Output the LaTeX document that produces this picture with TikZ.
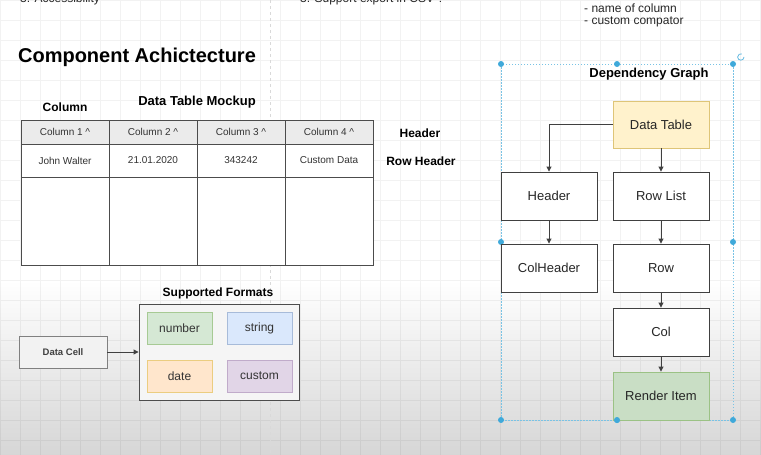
\documentclass[tikz,border=0pt]{standalone}
\usepackage{fontspec}
\setmainfont{Liberation Sans}
\usetikzlibrary{arrows.meta}
\definecolor{selblue}{HTML}{3FA9DA}
\definecolor{ylwfill}{HTML}{FFF2CC}
\definecolor{ylwdraw}{HTML}{D6B656}
\definecolor{grnfill}{HTML}{D5E8D4}
\definecolor{grndraw}{HTML}{82B366}
\definecolor{rifill}{HTML}{C9DEC5}
\definecolor{blufill}{HTML}{DAE8FC}
\definecolor{bludraw}{HTML}{6C8EBF}
\definecolor{orgfill}{HTML}{FFE6CC}
\definecolor{orgdraw}{HTML}{D79B00}
\definecolor{purfill}{HTML}{E1D5E7}
\definecolor{purdraw}{HTML}{9673A6}
\tikzset{
  gbox/.style={draw=black!75, line width=0.9pt, fill=white, minimum width=96pt, minimum height=48pt,
    inner sep=0pt, font=\fontsize{13}{15}\selectfont, text=black!85},
  arr/.style={-{Triangle[length=5pt,width=5pt]}, draw=black!75, line width=0.9pt},
  cellbox/.style={draw=black!70, line width=1pt, inner sep=0pt, minimum width=88pt,
    font=\fontsize{10}{12}\selectfont, text=black!80},
  lbl/.style={font=\bfseries\fontsize{12}{14}\selectfont, text=black, inner sep=0pt},
  fmtbox/.style={line width=0.8pt, minimum width=65pt, minimum height=32pt, inner sep=0pt,
    font=\fontsize{12}{14}\selectfont, text=black!80},
  seldot/.style={fill=selblue, draw=none},
}
\begin{document}
\begin{tikzpicture}[x=1pt,y=-1pt]
\useasboundingbox (0,0) rectangle (761,455);
\clip (0,0) rectangle (761,455);
% background
\fill[white] (0,0) rectangle (761,455);
\shade[top color=white, bottom color=black!16] (0,280) rectangle (761,455);
\draw[black, draw opacity=0.05, line width=0.5pt, step=20pt] (0,0) grid (761,455);
\draw[black!15, dashed, line width=0.5pt] (270,0) -- (270,455);

% top cut-off texts
\node[anchor=base west, inner sep=0pt, font=\fontsize{12}{14}\selectfont, text=black!85] (acc) at (20,2) {3. Accessibility};
\node[anchor=base west, inner sep=0pt, font=\fontsize{12}{14}\selectfont, text=black!85] (csv) at (300,2) {3. Support export in CSV ?};
\node[anchor=west, inner sep=0pt, font=\fontsize{12}{14}\selectfont, text=black!85] (n1) at (584,8) {- name of column};
\node[anchor=west, inner sep=0pt, font=\fontsize{12}{14}\selectfont, text=black!85] (n2) at (584,22) {- custom compator};

% title
\node[font=\bfseries\fontsize{20}{24}\selectfont, inner sep=0pt] (title) at (137,57) {Component Achictecture};
\node[lbl] (collbl) at (65,107) {Column};
\node[font=\bfseries\fontsize{13}{15}\selectfont, inner sep=0pt] (mock) at (197,102) {Data Table Mockup};

% table
\foreach \i/\x/\t in {1/65/Column 1 \textasciicircum, 2/153/Column 2 \textasciicircum, 3/241/Column 3 \textasciicircum, 4/329/Column 4 \textasciicircum}{
  \node[cellbox, fill=black!8, minimum height=24pt] (h\i) at (\x,132) {\t};
}
\foreach \i/\x/\t in {1/65/John Walter, 2/153/21.01.2020, 3/241/343242, 4/329/Custom Data}{
  \node[cellbox, fill=white, minimum height=33pt] (d\i) at (\x,160.5) {\t};
}
\foreach \i/\x in {1/65, 2/153, 3/241, 4/329}{
  \node[cellbox, fill=white, minimum height=88pt] (e\i) at (\x,221) {};
}
\node[lbl] (hdrlbl) at (420,133) {Header};
\node[lbl] (rowlbl) at (421,161) {Row Header};

% supported formats
\node[lbl] (fmtlbl) at (218,293) {Supported Formats};
\node[draw=black!70, line width=0.9pt, fill=black!4, minimum width=160pt, minimum height=96pt, inner sep=0pt] (fmt) at (219,352) {};
\node[fmtbox, fill=grnfill, draw=grndraw!70] (num) at (179.5,328) {number};
\node[fmtbox, fill=blufill, draw=bludraw!60] (str) at (259.5,328) {string};
\node[fmtbox, fill=orgfill, draw=orgdraw!50] (date) at (179.5,376) {date};
\node[fmtbox, fill=purfill, draw=purdraw!60] (cust) at (259.5,376) {custom};
\node[draw=black!50, line width=0.9pt, fill=black!5, minimum width=88pt, minimum height=32pt, inner sep=0pt,
  font=\bfseries\fontsize{9.5}{11}\selectfont, text=black!75] (cell) at (63,352) {Data Cell};
\draw[arr] (cell.east) -- (fmt.west);

% dependency graph selection frame
\draw[selblue!70, line width=0.6pt, dash pattern=on 1.5pt off 1.5pt] (501,64) rectangle (733,420);
\foreach \p in {(501,64),(617,64),(733,64),(501,242),(733,242),(501,420),(617,420),(733,420)}{
  \fill[seldot] \p circle (3pt);
}
\draw[selblue!80, line width=0.8pt] (744,57) arc[start angle=0, end angle=290, radius=3.2];

\node[font=\bfseries\fontsize{13}{15}\selectfont, inner sep=0pt] (dglbl) at (649,74) {Dependency Graph};
\node[gbox, fill=ylwfill, draw=ylwdraw!80, minimum height=47pt] (dt) at (661,124.5) {Data Table};
\node[gbox] (hdr) at (549,196) {Header};
\node[gbox] (rl) at (661,196) {Row List};
\node[gbox] (ch) at (549,268) {ColHeader};
\node[gbox] (row) at (661,268) {Row};
\node[gbox] (col) at (661,332) {Col};
\node[gbox, fill=rifill, draw=grndraw!80] (ri) at (661,396) {Render Item};
\fill[seldot] (617,420) circle (3pt);

\draw[arr] (dt.west) -| (hdr.north);
\draw[arr] (dt.south) -- (rl.north);
\draw[arr] (hdr.south) -- (ch.north);
\draw[arr] (rl.south) -- (row.north);
\draw[arr] (row.south) -- (col.north);
\draw[arr] (col.south) -- (ri.north);
\end{tikzpicture}
\end{document}
